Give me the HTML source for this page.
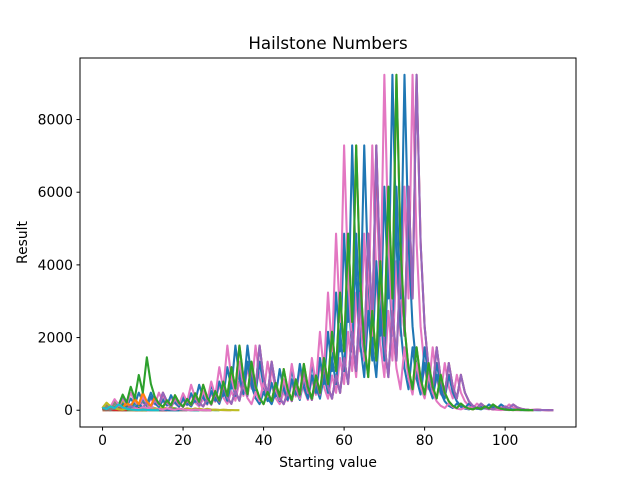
<!DOCTYPE html>
<html><head><meta charset="utf-8"><style>
body{margin:0;background:#fff}
svg text{font-family:"DejaVu Sans","Liberation Sans",sans-serif;fill:#000}
</style></head><body>
<svg id="chart" width="640" height="480" viewBox="0 0 640 480" xmlns="http://www.w3.org/2000/svg">
<rect width="640" height="480" fill="#fff"/>
<defs><clipPath id="clip"><rect x="80" y="58" width="496" height="369"/></clipPath></defs>
<g id="lines" clip-path="url(#clip)"></g>
<rect x="80" y="58" width="496" height="369" fill="none" stroke="#000" stroke-width="1"/>
<g id="xt"></g>
<g id="yt"></g>
<text x="328" y="49" text-anchor="middle" font-size="16.7">Hailstone Numbers</text>
<text x="328" y="467" text-anchor="middle" font-size="13.9">Starting value</text>
<text transform="translate(27,242.5) rotate(-90)" text-anchor="middle" font-size="13.9">Result</text>
</svg>
<script>
const startValues = [];
for (let s = 1; s <= 70; s++) startValues.push(s);
const xTicks = [0, 20, 40, 60, 80, 100];
const yTicks = [0, 2000, 4000, 6000, 8000];
const colors = ['#1f77b4','#ff7f0e','#2ca02c','#d62728','#9467bd','#8c564b','#e377c2','#7f7f7f','#bcbd22','#17becf'];

function hailstone(n){const r=[n];while(n!==1&&n>0){n=(n%2===0)?n/2:3*n+1;r.push(n);}return r;}
const seqs = startValues.map(hailstone);
let xmaxD=0,ymaxD=0;
seqs.forEach(q=>{xmaxD=Math.max(xmaxD,q.length-1);ymaxD=Math.max(ymaxD,...q);});
const xmin=-0.05*xmaxD, xmax=xmaxD*1.05, ymin=-0.05*ymaxD, ymax=ymaxD*1.05;
const L=80,R=576,T=58,B=427;
const X=v=>L+(v-xmin)/(xmax-xmin)*(R-L);
const Y=v=>B-(v-ymin)/(ymax-ymin)*(B-T);
const NS='http://www.w3.org/2000/svg';
const g=document.getElementById('lines');
seqs.forEach((q,i)=>{
  const p=document.createElementNS(NS,'polyline');
  p.setAttribute('points',q.map((v,k)=>X(k).toFixed(2)+','+Y(v).toFixed(2)).join(' '));
  p.setAttribute('fill','none');
  p.setAttribute('stroke',colors[i%10]);
  p.setAttribute('stroke-width','2.08');
  p.setAttribute('stroke-linejoin','round');
  
  
  g.appendChild(p);
});
const xt=document.getElementById('xt');
xTicks.forEach(t=>{
  const x=X(t);
  const l=document.createElementNS(NS,'line');
  l.setAttribute('x1',x);l.setAttribute('x2',x);l.setAttribute('y1',B);l.setAttribute('y2',B+3.5);l.setAttribute('stroke','#000');
  
  
  xt.appendChild(l);
  const s=document.createElementNS(NS,'text');
  s.setAttribute('x',x);s.setAttribute('y',B+18);s.setAttribute('text-anchor','middle');s.setAttribute('font-size','13.9');
  s.textContent=t;
  
  
  xt.appendChild(s);
});
const yt=document.getElementById('yt');
yTicks.forEach(t=>{
  const y=Y(t);
  const l=document.createElementNS(NS,'line');
  l.setAttribute('x1',L-3.5);l.setAttribute('x2',L);l.setAttribute('y1',y);l.setAttribute('y2',y);l.setAttribute('stroke','#000');
  
  
  yt.appendChild(l);
  const s=document.createElementNS(NS,'text');
  s.setAttribute('x',L-7);s.setAttribute('y',y+5);s.setAttribute('text-anchor','end');s.setAttribute('font-size','13.9');
  s.textContent=t;
  
  
  yt.appendChild(s);
});
</script>
</body></html>
